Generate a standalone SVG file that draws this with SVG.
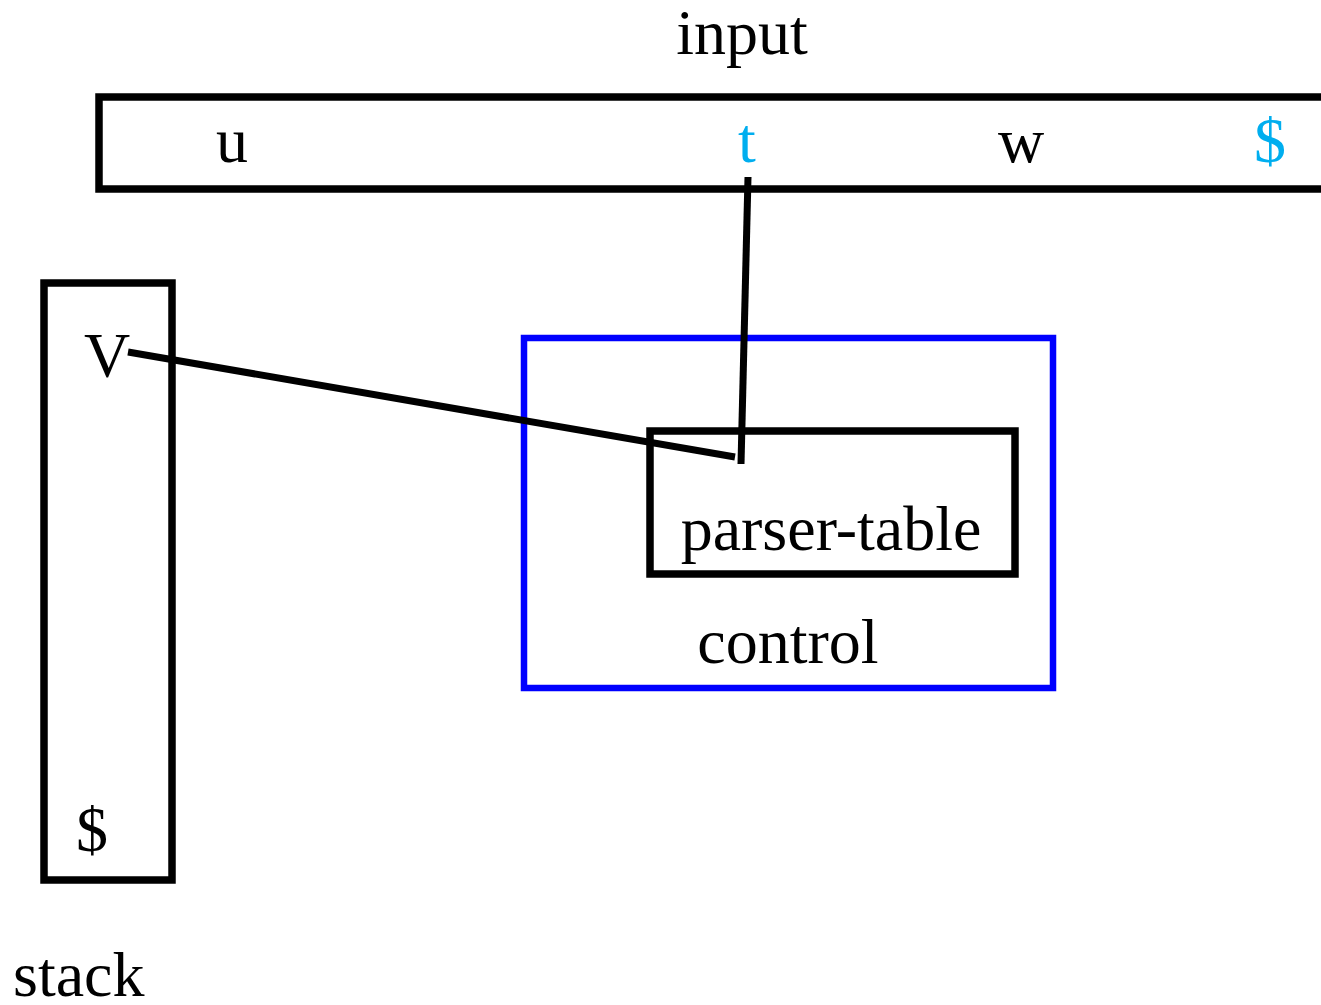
<svg xmlns="http://www.w3.org/2000/svg" width="1321" height="1005" viewBox="0 0 1321 1005">
<style>
text{font-family:"Liberation Serif","Times New Roman",serif;font-size:64px;fill:#000}
.c{text-anchor:middle}
.hl{fill:#00AEEF}
.box{fill:none;stroke:#000;stroke-width:7.5}
.blue{fill:none;stroke:#0000FF;stroke-width:6.5}
.ln{stroke:#000;stroke-width:7;fill:none}
</style>
<rect width="1321" height="1005" fill="#fff"/>
<g id="input">
<rect class="box" x="99" y="97" width="1240" height="92"/>
<text class="c" x="742" y="54">input</text>
<text class="c" x="232" y="162">u</text>
<text class="c hl" x="747" y="162">t</text>
<text class="c" x="1021" y="162">w</text>
<text class="c hl" x="1270" y="162">$</text>
</g>
<g id="stack">
<rect class="box" x="44" y="283" width="128" height="597"/>
<text class="c" x="107" y="377">V</text>
<text class="c" x="92" y="851">$</text>
<text x="13" y="996">stack</text>
</g>
<g id="control">
<rect class="blue" x="524" y="338" width="529" height="350"/>
<text class="c" x="788" y="663">control</text>
</g>
<g id="parser-table">
<rect class="box" x="650" y="431" width="365" height="143"/>
<text class="c" x="831" y="550">parser-table</text>
</g>
<g id="connectors">
<line class="ln" x1="748" y1="177" x2="741" y2="464"/>
<line class="ln" x1="128" y1="352" x2="735" y2="457"/>
</g>
</svg>
